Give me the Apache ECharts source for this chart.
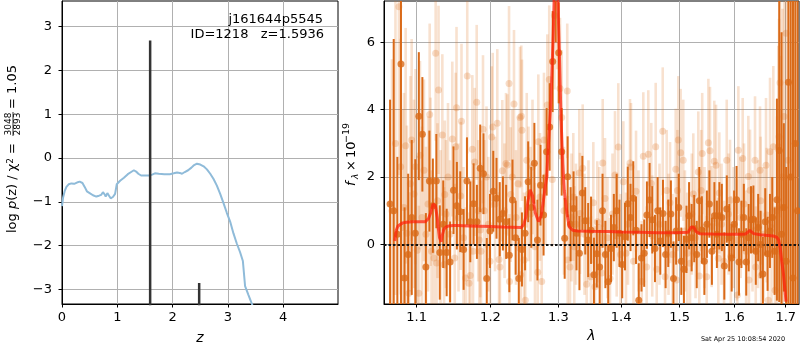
<!DOCTYPE html>
<html><head><meta charset="utf-8">
<script src="https://cdn.jsdelivr.net/npm/echarts@6/dist/echarts.min.js"></script>
<style>html,body{margin:0;padding:0;background:#fff}#c{width:800px;height:350px}</style>
</head><body><div id="c"></div>
<script>
// ---------- Left panel: log p(z) ----------
const pzZ = [0.00,0.02,0.05,0.08,0.12,0.17,0.22,0.27,0.32,0.37,0.41,0.45,0.50,0.56,0.62,0.67,0.71,0.74,0.77,0.79,0.82,0.85,0.88,0.92,0.96,0.99,1.05,1.12,1.19,1.25,1.30,1.34,1.38,1.43,1.50,1.57,1.63,1.68,1.75,1.85,1.95,2.02,2.08,2.13,2.17,2.22,2.28,2.34,2.38,2.44,2.50,2.56,2.62,2.68,2.74,2.80,2.86,2.92,2.98,3.04,3.10,3.16,3.22,3.27,3.31,3.37,3.44,3.50];
const pzLogP = [-1.10,-0.90,-0.75,-0.66,-0.60,-0.58,-0.59,-0.56,-0.54,-0.57,-0.66,-0.76,-0.80,-0.85,-0.88,-0.86,-0.84,-0.78,-0.83,-0.88,-0.80,-0.86,-0.92,-0.89,-0.82,-0.60,-0.52,-0.45,-0.37,-0.32,-0.28,-0.31,-0.36,-0.40,-0.40,-0.40,-0.38,-0.35,-0.36,-0.37,-0.37,-0.35,-0.33,-0.34,-0.36,-0.32,-0.28,-0.22,-0.17,-0.13,-0.15,-0.19,-0.26,-0.36,-0.48,-0.63,-0.82,-1.03,-1.25,-1.45,-1.72,-1.95,-2.15,-2.35,-2.92,-3.12,-3.35,-3.60];
const peakZ = [1.5936, 2.48];
const peakTop = [2.68, -2.85];
const peakFloor = -10;
const zTicks = [0,1,2,3,4];
const pTicks = [-3,-2,-1,0,1,2,3];

// ---------- Right panel: spectrum ----------
const lamTicks = [1.1,1.2,1.3,1.4,1.5,1.6,1.7];
const fTicks = [0,2,4,6];

const lamD = [1.0660,1.0706,1.0752,1.0798,1.0844,1.0890,1.0936,1.0982,1.1028,1.1074,
1.1120,1.1166,1.1212,1.1258,1.1304,1.1350,1.1396,1.1442,1.1488,1.1534,
1.1580,1.1626,1.1672,1.1718,1.1764,1.1810,1.1856,1.1902,1.1948,1.1994,
1.2040,1.2086,1.2132,1.2178,1.2224,1.2270,1.2316,1.2362,1.2408,1.2454,
1.2500,1.2546,1.2592,1.2638,1.2684,1.2730,1.2776,1.2822,1.2868,1.2914,
1.2960,1.3006,1.3052,1.3098,1.3144,1.3190,1.3236,1.3282,1.3328,1.3374,
1.3420,1.3466,1.3512,1.3558,1.3604,1.3650,1.3696,1.3742,1.3788,1.3834,
1.3880,1.3926,1.3972,1.4018,1.4064,1.4110,1.4156,1.4202,1.4248,1.4294,
1.4340,1.4386,1.4432,1.4478,1.4524,1.4570,1.4616,1.4662,1.4708,1.4754,
1.4800,1.4846,1.4892,1.4938,1.4984,1.5030,1.5076,1.5122,1.5168,1.5214,
1.5260,1.5306,1.5352,1.5398,1.5444,1.5490,1.5536,1.5582,1.5628,1.5674,
1.5720,1.5766,1.5812,1.5858,1.5904,1.5950,1.5996,1.6042,1.6088,1.6134,
1.6180,1.6226,1.6272,1.6318,1.6364,1.6410,1.6456,1.6502,1.6548,1.6594,
1.6640,1.6686,1.6732,1.6778,1.6824,1.6870,1.6916,1.6962,1.7008,1.7054,
1.7100,1.7146,1.7192,1.7238];
const fluxD = [1.2,1.0,0.3,5.36,-1.0,-0.3,0.8,0.33,3.81,3.27,
-0.67,1.88,1.15,1.88,-0.24,0.6,-0.24,-0.52,1.61,1.15,
0.97,-0.15,1.88,0.67,1.21,0.67,2.26,2.1,-1.01,0.4,
1.58,1.37,0.75,0.92,0.67,-0.32,1.32,0.2,-1.01,-0.15,
0.33,1.86,1.1,2.41,0.13,1.76,0.87,2.75,3.49,5.43,
7.6,5.69,2.75,0.18,2.01,0.6,1.07,0.33,-0.26,1.53,
0.7,0.13,0.42,-0.9,-0.28,-0.67,1.0,-0.3,-1.11,-0.12,
0.5,1.0,0.33,-0.6,0.23,1.21,0.8,1.37,0.42,-1.66,
-0.4,-0.26,0.87,1.32,0.73,-0.12,1.0,0.1,0.92,-0.3,
0.33,0.9,-1.01,0.4,1.1,-0.5,-0.74,0.15,0.85,0.2,
0.47,-0.3,1.3,0.43,-0.5,0.6,1.2,-0.2,0.85,0.3,
0.85,0.8,-0.64,1.05,0.2,-0.4,0.6,1.33,-0.52,0.3,
0.8,-0.52,0.2,0.73,0.75,-0.2,0.5,0.0,-0.88,0.67,
-0.28,0.4,0.8,-0.2,1.33,2.79,0.3,1.1,-0.5,4.82,
2.0,-1.0,3.0,1.0];
const errD = [3.1,5.1,2.3,8,2.1,2.4,2.3,2.2,1.9,1.7,
1.6,1.5,1.4,1.4,1.4,1.3,1.3,1.2,1.3,1.3,
1.2,1.2,1.3,1.2,1.2,1.1,1.3,1.2,1.2,1.1,
1.2,1.2,1.1,1.1,1.1,1.1,1.2,1.1,1.2,1.1,
1.1,1.2,1.2,1.2,1.2,1.2,1.2,1.3,1.3,1.5,
1.6,1.5,1.3,1.2,1.2,1.1,1.1,1.1,1.1,1.1,
1.0,1.1,1.0,1.1,1.0,1.1,1.1,1.0,1.1,1.0,
1.0,1.1,1.0,1.0,1.0,1.1,1.0,1.1,1.0,1.1,
1.0,1.0,1.0,1.1,1.0,1.0,1.0,1.0,1.0,1.0,
1.0,1.0,1.1,1.0,1.0,1.0,1.0,1.0,1.0,1.0,
1.0,1.0,1.0,1.0,1.0,1.0,1.0,1.0,1.0,1.0,
1.0,1.0,1.0,1.0,1.0,1.0,1.0,1.0,1.0,1.0,
1.0,1.0,1.0,1.0,1.0,1.0,1.0,1.0,1.1,1.0,
1.1,1.1,1.2,1.3,3.0,4.5,6,2.5,2.8,8,
9,9,9,9];

const lamL = [1.0684,1.0728,1.0772,1.0794,1.0817,1.0836,1.0858,1.0874,1.0900,1.0919,
1.0935,1.0965,1.0984,1.1008,1.1028,1.1043,1.1069,1.1095,1.1121,1.1148,
1.1170,1.1181,1.1194,1.1227,1.1249,1.1261,1.1273,1.1287,1.1314,1.1338,
1.1361,1.1371,1.1387,1.1414,1.1441,1.1472,1.1505,1.1518,1.1529,1.1556,
1.1586,1.1597,1.1625,1.1654,1.1676,1.1700,1.1718,1.1746,1.1756,1.1779,
1.1807,1.1828,1.1843,1.1857,1.1867,1.1895,1.1913,1.1944,1.1970,1.1994,
1.2018,1.2032,1.2065,1.2097,1.2122,1.2135,1.2169,1.2201,1.2222,1.2241,
1.2266,1.2273,1.2290,1.2313,1.2338,1.2367,1.2397,1.2426,1.2436,1.2445,
1.2455,1.2485,1.2504,1.2525,1.2551,1.2580,1.2610,1.2647,1.2688,1.2697,
1.2722,1.2748,1.2782,1.2805,1.2832,1.2862,1.2908,1.2941,1.2982,1.3026,
1.3052,1.3087,1.3138,1.3145,1.3180,1.3203,1.3232,1.3247,1.3274,1.3326,
1.3337,1.3379,1.3408,1.3442,1.3471,1.3511,1.3548,1.3575,1.3612,1.3644,
1.3682,1.3699,1.3736,1.3776,1.3817,1.3858,1.3899,1.3927,1.3953,1.3989,
1.4036,1.4080,1.4114,1.4147,1.4164,1.4206,1.4248,1.4290,1.4344,1.4371,
1.4428,1.4456,1.4506,1.4523,1.4583,1.4600,1.4648,1.4704,1.4744,1.4773,
1.4805,1.4831,1.4875,1.4931,1.4948,1.4962,1.4976,1.5018,1.5064,1.5094,
1.5135,1.5185,1.5217,1.5244,1.5284,1.5334,1.5352,1.5387,1.5405,1.5447,
1.5487,1.5517,1.5547,1.5578,1.5626,1.5658,1.5700,1.5719,1.5760,1.5807,
1.5857,1.5891,1.5919,1.5934,1.5986,1.6046,1.6057,1.6076,1.6118,1.6159,
1.6184,1.6223,1.6266,1.6278,1.6299,1.6347,1.6395,1.6409,1.6453,1.6492,
1.6504,1.6515,1.6560,1.6609,1.6623,1.6654,1.6688,1.6717,1.6753,1.6787,
1.6826,1.6852,1.6866,1.6886,1.6902,1.6936,1.6966,1.7006,1.7046];
const fluxL = [1.0,3.0,7.06,2.31,0.5,1.1,2.93,0.33,-1.45,1.8,
3.1,1.5,2.31,-0.17,-1.45,2.65,0.8,2.2,0.3,1.2,
3.86,1.86,-0.2,-0.4,5.68,-0.55,1.3,4.59,0.5,3.25,
-0.6,1.48,0.9,2.0,0.3,3.13,-0.4,2.9,4.06,0.8,
1.44,3.66,0.2,-1.0,5.0,-1.15,-0.92,2.83,-0.2,2.45,
4.22,1.0,0.13,0.43,-0.2,3.42,1.0,2.0,0.6,-0.5,
3.19,3.49,1.2,3.6,-0.45,-0.67,2.19,1.0,2.4,2.36,
4.78,-1.1,1.48,2.0,4.17,0.8,1.8,3.77,-0.9,3.81,
3.39,-0.46,-1.66,2.5,1.5,0.9,2.3,-0.07,-0.83,3.05,
1.41,-1.1,3.1,2.0,4.14,4.9,1.93,6.8,7.5,4.63,
3.77,1.0,4.56,-0.46,-0.67,0.8,1.41,-0.07,0.6,2.12,
0.92,2.26,0.3,-1.18,0.7,-0.96,1.24,-1.26,0.67,0.5,
-0.85,2.42,1.36,0.2,-1.01,0.9,2.06,0.25,2.89,-0.3,
1.86,-0.26,0.6,2.42,2.3,-0.5,1.58,0.4,-1.1,2.62,
-0.67,2.68,1.81,0.25,2.9,-0.74,0.6,3.36,-0.96,1.6,
0.3,1.24,-0.3,2.23,-1.06,1.6,3.1,2.72,2.5,0.4,
-0.26,-0.56,0.9,1.5,0.2,2.15,-0.94,1.6,2.7,0.5,
-0.96,3.02,2.78,0.53,2.47,2.35,-0.41,1.53,0.6,-0.5,
2.5,0.9,1.31,-0.36,0.5,0.13,-1.5,2.8,0.8,2.55,
1.2,-0.2,2.02,-1.06,1.61,0.4,2.5,-0.67,0.6,2.2,
1.3,-0.92,0.3,2.35,0.87,-1.66,2.75,0.5,2.9,-1.36,
1.0,2.9,3.2,4.8,1.1,2.0,3.8,6.27,2.5];
const errL = [4.5,4.5,5.0,3.8,3.5,3.4,3.5,3.2,3.0,3.2,
3.0,2.8,2.9,2.8,2.6,2.8,2.7,2.7,2.6,2.6,
2.7,2.5,2.4,2.4,2.6,2.3,2.3,2.5,2.3,2.4,
2.3,2.2,2.2,2.2,2.2,2.3,2.2,2.2,2.4,2.2,
2.2,2.3,2.1,2.1,2.3,2.1,2.1,2.2,2.1,2.2,
2.3,2.1,2.1,2.0,2.1,2.2,2.1,2.1,2.0,2.0,
2.1,2.2,2.0,2.2,2.0,2.0,2.1,2.0,2.1,2.1,
2.3,2.0,2.0,2.0,2.2,2.0,2.0,2.1,2.0,2.1,
2.1,2.0,2.0,2.0,2.0,2.0,2.0,1.9,1.9,2.0,
1.9,1.9,2.0,2.0,2.1,2.2,2.0,2.2,2.3,2.1,
2.0,1.9,2.0,1.9,1.9,1.9,1.9,1.8,1.8,1.9,
1.8,1.9,1.8,1.8,1.8,1.8,1.8,1.8,1.8,1.8,
1.8,1.9,1.8,1.8,1.8,1.8,1.9,1.8,1.9,1.8,
1.8,1.8,1.8,1.9,1.9,1.8,1.8,1.8,1.8,1.9,
1.8,1.9,1.8,1.8,1.9,1.8,1.8,1.9,1.8,1.8,
1.8,1.8,1.8,1.8,1.8,1.8,1.9,1.9,1.8,1.8,
1.8,1.8,1.8,1.8,1.8,1.8,1.8,1.8,1.8,1.8,
1.8,1.9,1.9,1.8,1.8,1.8,1.8,1.8,1.8,1.8,
1.8,1.8,1.8,1.8,1.8,1.8,1.8,1.9,1.8,1.8,
1.8,1.8,1.8,1.8,1.8,1.8,1.9,1.8,1.9,1.9,
1.9,1.9,2.0,2.0,2.0,2.1,2.2,2.3,2.4,2.5,
2.8,3.0,3.5,4.0,4.5,5.0,5.5,6.0,6.5];

const modelLam = [1.0720,1.0738,1.0760,1.0781,1.0820,1.0868,1.0950,1.1050,1.1110,1.1155,
1.1185,1.1214,1.1245,1.1270,1.1282,1.1300,1.1322,1.1340,1.1358,1.1390,
1.1427,1.1480,1.1542,1.1700,1.1850,1.2000,1.2150,1.2300,1.2444,1.2483,
1.2510,1.2540,1.2575,1.2610,1.2650,1.2700,1.2740,1.2770,1.2800,1.2823,
1.2853,1.2888,1.2923,1.2945,1.2965,1.2985,1.3000,1.3015,1.3041,1.3068,
1.3092,1.3134,1.3169,1.3222,1.3300,1.3500,1.3778,1.4000,1.4333,1.4600,
1.4911,1.5148,1.5185,1.5206,1.5230,1.5254,1.5295,1.5354,1.5600,1.5900,
1.6118,1.6212,1.6255,1.6294,1.6330,1.6369,1.6500,1.6755,1.6824,1.6860,
1.6887,1.6920,1.6953,1.7006];
const modelFlux = [0.10,0.42,0.55,0.60,0.64,0.66,0.67,0.67,0.67,0.77,
0.95,1.20,1.15,0.80,0.52,0.20,0.08,0.30,0.45,0.52,
0.55,0.56,0.56,0.55,0.54,0.53,0.52,0.51,0.50,0.60,
0.80,1.25,1.62,1.45,0.95,0.68,0.85,1.25,1.70,2.00,
3.10,4.30,6.28,8.0,9.0,8.0,6.8,5.77,3.79,2.40,
1.60,0.92,0.52,0.42,0.40,0.39,0.38,0.37,0.36,0.35,
0.35,0.36,0.45,0.52,0.57,0.50,0.38,0.32,0.31,0.30,
0.30,0.31,0.36,0.42,0.40,0.32,0.29,0.25,0.21,0.12,
-0.07,-0.5,-0.86,-1.7];

// ---------- styles ----------
const FONT = 'DejaVu Sans';
const DARK = 'rgb(218,106,24)';
const LIGHT_BAR = 'rgba(222,112,30,0.21)';
const LIGHT_PT = 'rgba(222,112,30,0.30)';
const fmtNum = v => {
  const r = Math.round(v * 10) / 10;
  const s = Math.abs(r) < 1e-9 ? '0' : String(Math.abs(r));
  return r < -1e-9 ? '\u2212' + s : s;
};

function errRender(color, width) {
  return function (params, api) {
    const x = api.value(0), lo = api.value(1), hi = api.value(2);
    const p1 = api.coord([x, lo]);
    const p2 = api.coord([x, hi]);
    const cs = params.coordSys;
    const top = cs.y, bot = cs.y + cs.height;
    const y1 = Math.min(Math.max(p1[1], top), bot);
    const y2 = Math.min(Math.max(p2[1], top), bot);
    if (Math.abs(y1 - y2) < 0.01) return null;
    return {type: 'line', silent: true,
      shape: {x1: p1[0], y1: y1, x2: p2[0], y2: y2},
      style: {stroke: color, lineWidth: width}};
  };
}

const axisLineStyle = {show: true, onZero: false, lineStyle: {color: '#000', width: 1}};
const splitLineStyle = {show: true, lineStyle: {color: '#b0b0b0', width: 1}};
function mkAxis(extra, ticks, margin) {
  return Object.assign({
    type: 'value',
    axisLine: axisLineStyle,
    splitLine: splitLineStyle,
    axisTick: {show: true, inside: false, length: 3.5, customValues: ticks, lineStyle: {color: '#000', width: 1}},
    axisLabel: {customValues: ticks, formatter: fmtNum, color: '#000', fontSize: 13, fontFamily: FONT, margin: margin},
  }, extra);
}

const chart = echarts.init(document.getElementById('c'), null, {renderer: 'canvas'});
const option = {
  animation: false,
  backgroundColor: '#fff',
  grid: [
    {left: 62, top: 1, width: 276, height: 303, show: true, borderColor: '#000', borderWidth: 1, backgroundColor: 'transparent'},
    {left: 384, top: 1, width: 415, height: 303, show: true, borderColor: '#000', borderWidth: 1, backgroundColor: 'transparent'}
  ],
  xAxis: [
    mkAxis({gridIndex: 0, min: 0, max: 4.99, name: 'z', nameLocation: 'middle', nameGap: 27,
      nameTextStyle: {fontStyle: 'italic', fontSize: 14, color: '#000', fontFamily: FONT}}, zTicks, 7),
    mkAxis({gridIndex: 1, type: 'log', logBase: 10, min: 1.0584, max: 1.7268, name: '\u03bb', nameLocation: 'middle', nameGap: 25,
      nameTextStyle: {fontStyle: 'italic', fontSize: 14, color: '#000', fontFamily: FONT},
      axisLabel: {customValues: lamTicks, formatter: v => v.toFixed(1), color: '#000', fontSize: 13, fontFamily: FONT, margin: 7}}, lamTicks, 7)
  ],
  yAxis: [
    mkAxis({gridIndex: 0, min: -3.33, max: 3.58}, pTicks, 10),
    mkAxis({gridIndex: 1, min: -1.77, max: 7.23}, fTicks, 9)
  ],
  series: [
    {type: 'line', xAxisIndex: 0, yAxisIndex: 0, z: 3, showSymbol: false, silent: true,
      data: pzZ.map((z, i) => [z, pzLogP[i]]),
      lineStyle: {color: '#8fbbd9', width: 2}},
    ...peakZ.map((z, i) => ({type: 'line', xAxisIndex: 0, yAxisIndex: 0, z: 4, showSymbol: false, silent: true,
      data: [[z, peakFloor], [z, peakTop[i]]],
      lineStyle: {color: '#333', width: 2.5}})),
    {type: 'custom', xAxisIndex: 1, yAxisIndex: 1, z: 2, silent: true,
      renderItem: errRender(LIGHT_BAR, 2.6),
      encode: {x: 0, y: [1, 2]},
      data: lamL.map((l, i) => [l, fluxL[i] - errL[i], fluxL[i] + errL[i]])},
    {type: 'scatter', xAxisIndex: 1, yAxisIndex: 1, z: 3, silent: true, symbolSize: 7,
      itemStyle: {color: LIGHT_PT},
      data: lamL.map((l, i) => [l, fluxL[i]])},
    {type: 'custom', xAxisIndex: 1, yAxisIndex: 1, z: 4, silent: true,
      renderItem: errRender(DARK, 2),
      encode: {x: 0, y: [1, 2]},
      data: lamD.map((l, i) => [l, fluxD[i] - errD[i], fluxD[i] + errD[i]])},
    {type: 'scatter', xAxisIndex: 1, yAxisIndex: 1, z: 5, silent: true, symbolSize: 7,
      itemStyle: {color: DARK},
      data: lamD.map((l, i) => [l, fluxD[i]])},
    {type: 'line', xAxisIndex: 1, yAxisIndex: 1, z: 6, showSymbol: false, silent: true,
      data: modelLam.map((l, i) => [l, modelFlux[i]]),
      lineStyle: {color: 'rgba(255,30,10,0.72)', width: 3},
      markLine: {silent: true, symbol: ['none', 'none'], label: {show: false},
        lineStyle: {color: '#111', width: 2, type: [2.5, 2]},
        data: [{yAxis: 0}]}}
  ],
  graphic: [
    {type: 'text', x: 323, y: 20, silent: true, z: 10,
      style: {text: 'j161644p5545', fill: '#000', font: '13px "DejaVu Sans"', textAlign: 'right', textVerticalAlign: 'middle'}},
    {type: 'text', x: 324, y: 34.5, silent: true, z: 10,
      style: {text: 'ID=1218   z=1.5936', fill: '#000', font: '13px "DejaVu Sans"', textAlign: 'right', textVerticalAlign: 'middle'}},
    {type: 'text', x: 743, y: 339, silent: true,
      style: {text: 'Sat Apr 25 10:08:54 2020', fill: '#000', font: '6.5px "DejaVu Sans"', textAlign: 'center', textVerticalAlign: 'middle'}},
    {type: 'group', x: 13, y: 240, rotation: Math.PI / 2, silent: true, children: [
      {type: 'text', x: 97, y: 0, style: {
        text: '{n|log }{i|p}{n|(z) / \u03c7}{s|2}{n| =}', textAlign: 'right', textVerticalAlign: 'middle',
        rich: {n: {fontSize: 13, fontFamily: FONT, fill: '#000'},
               i: {fontSize: 13, fontFamily: FONT, fontStyle: 'italic', fill: '#000'},
               s: {fontSize: 9, fontFamily: FONT, fill: '#000', verticalAlign: 'top'}}}},
      {type: 'text', x: 116, y: -4.6, style: {text: '3048', font: '9px "DejaVu Sans"', fill: '#000', textAlign: 'center', textVerticalAlign: 'middle'}},
      {type: 'line', shape: {x1: 104, y1: 0, x2: 128, y2: 0}, style: {stroke: '#000', lineWidth: 0.8}},
      {type: 'text', x: 116, y: 5, style: {text: '2893', font: '9px "DejaVu Sans"', fill: '#000', textAlign: 'center', textVerticalAlign: 'middle'}},
      {type: 'text', x: 131, y: 0, style: {text: '= 1.05', font: '13px "DejaVu Sans"', fill: '#000', textAlign: 'left', textVerticalAlign: 'middle'}}
    ]},
    {type: 'group', x: 352, y: 186, rotation: Math.PI / 2, silent: true, children: [
      {type: 'text', x: 0, y: 0, style: {text: 'f', font: 'italic 13px "DejaVu Sans"', fill: '#000', textAlign: 'left', textVerticalAlign: 'middle'}},
      {type: 'text', x: 7, y: 3.5, style: {text: '\u03bb', font: 'italic 9px "DejaVu Sans"', fill: '#000', textAlign: 'left', textVerticalAlign: 'middle'}},
      {type: 'text', x: 15, y: 0, style: {text: '\u00d7', font: '13px "DejaVu Sans"', fill: '#000', textAlign: 'left', textVerticalAlign: 'middle'}},
      {type: 'text', x: 28, y: 0, style: {text: '10', font: '13px "DejaVu Sans"', fill: '#000', textAlign: 'left', textVerticalAlign: 'middle'}},
      {type: 'text', x: 43, y: -5, style: {text: '\u221219', font: '9.5px "DejaVu Sans"', fill: '#000', textAlign: 'left', textVerticalAlign: 'middle'}}
    ]}
  ]
};
chart.setOption(option);
</script></body></html>
